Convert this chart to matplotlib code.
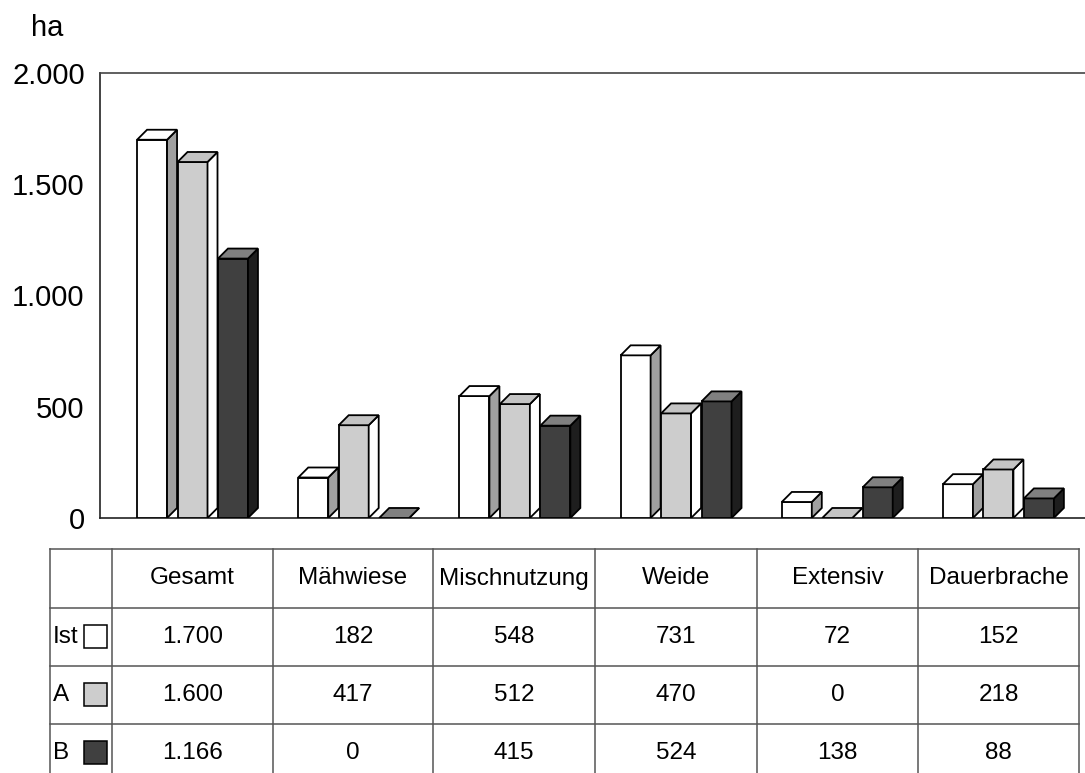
import matplotlib
matplotlib.use("Agg")
import matplotlib.pyplot as plt
from matplotlib.patches import Polygon, Rectangle
from matplotlib.lines import Line2D

# data
categories = ["Gesamt", "Mähwiese", "Mischnutzung", "Weide", "Extensiv", "Dauerbrache"]
series_names = ["Ist", "A", "B"]
ist_values = [1700, 182, 548, 731, 72, 152]
a_values = [1600, 417, 512, 470, 0, 218]
b_values = [1166, 0, 415, 524, 138, 88]
y_ticks = [0, 500, 1000, 1500, 2000]

series_values = [ist_values, a_values, b_values]
# front, top, side colours per series
face_colors = [("#ffffff", "#ffffff", "#a0a0a0"),
               ("#cdcdcd", "#c4c4c4", "#ffffff"),
               ("#404040", "#808080", "#1e1e1e")]

plt.rcParams['font.family'] = ['Liberation Sans', 'DejaVu Sans']

W, H = 1085, 773
fig = plt.figure(figsize=(W / 100, H / 100), dpi=100)


def fx(px):
    return px / W


def fy(py):
    return 1 - py / H


def de(v):
    return f"{v:,}".replace(",", ".")


ax = fig.add_axes([fx(100), fy(518), fx(1085) - fx(100), fy(73) - fy(518)])
ax.set_xlim(-0.574, 5.537)
ax.set_ylim(0, 2000)

width = 0.186
offsets = [-0.251, 0.0, 0.251]
dx = 0.062
dy = 45
lw = 1.3

for k, vals in enumerate(series_values):
    front, top, side = face_colors[k]
    for j, v in enumerate(vals):
        xc = j + offsets[k]
        x0, x1 = xc - width / 2, xc + width / 2
        ax.bar(xc, v, width=width, color=front, edgecolor="black",
               linewidth=lw, zorder=3)
        ax.add_patch(Polygon([(x1, 0), (x1 + dx, dy), (x1 + dx, v + dy), (x1, v)],
                             closed=True, facecolor=side, edgecolor="black",
                             linewidth=lw, zorder=3))
        ax.add_patch(Polygon([(x0, v), (x1, v), (x1 + dx, v + dy), (x0 + dx, v + dy)],
                             closed=True, facecolor=top, edgecolor="black",
                             linewidth=lw, zorder=3))

ax.set_xticks([])
ax.set_yticks(y_ticks)
ax.set_yticklabels([de(t) for t in y_ticks], fontsize=21)
ax.tick_params(axis='y', length=0, pad=11)
ax.spines['right'].set_visible(False)
for s in ['left', 'top', 'bottom']:
    ax.spines[s].set_linewidth(1.2)
    ax.spines[s].set_color("#222222")
ax.spines['top'].set_color("#444444")

fig.text(fx(31), fy(28), "ha", fontsize=21, va='center', ha='left')

# table below the chart
col_edges = [50, 112, 273, 433, 595, 757, 918, 1079]
row_edges = [549, 608, 666, 724, 782]
line_kw = dict(color="#555555", linewidth=1.1)
for y in row_edges[:-1]:
    fig.add_artist(Line2D([fx(col_edges[0]), fx(col_edges[-1])], [fy(y), fy(y)], **line_kw))
for x in col_edges:
    fig.add_artist(Line2D([fx(x), fx(x)], [fy(row_edges[0]), fy(row_edges[-1])], **line_kw))

for j, cat in enumerate(categories):
    cx = (col_edges[j + 1] + col_edges[j + 2]) / 2
    fig.text(fx(cx), fy((row_edges[0] + row_edges[1]) / 2), cat,
             fontsize=17.5, ha='center', va='center')

for k, (name, vals) in enumerate(zip(series_names, series_values)):
    cy = (row_edges[k + 1] + row_edges[k + 2]) / 2
    fig.text(fx(53), fy(cy), name, fontsize=17.5, ha='left', va='center')
    fig.add_artist(Rectangle((fx(84), fy(cy + 11)), fx(23), fy(0) - fy(23),
                             facecolor=face_colors[k][0], edgecolor="black",
                             linewidth=1.1, transform=fig.transFigure))
    for j, v in enumerate(vals):
        cx = (col_edges[j + 1] + col_edges[j + 2]) / 2
        fig.text(fx(cx), fy(cy), de(v), fontsize=17.5, ha='center', va='center')

fig.savefig("out.png", dpi=100)
